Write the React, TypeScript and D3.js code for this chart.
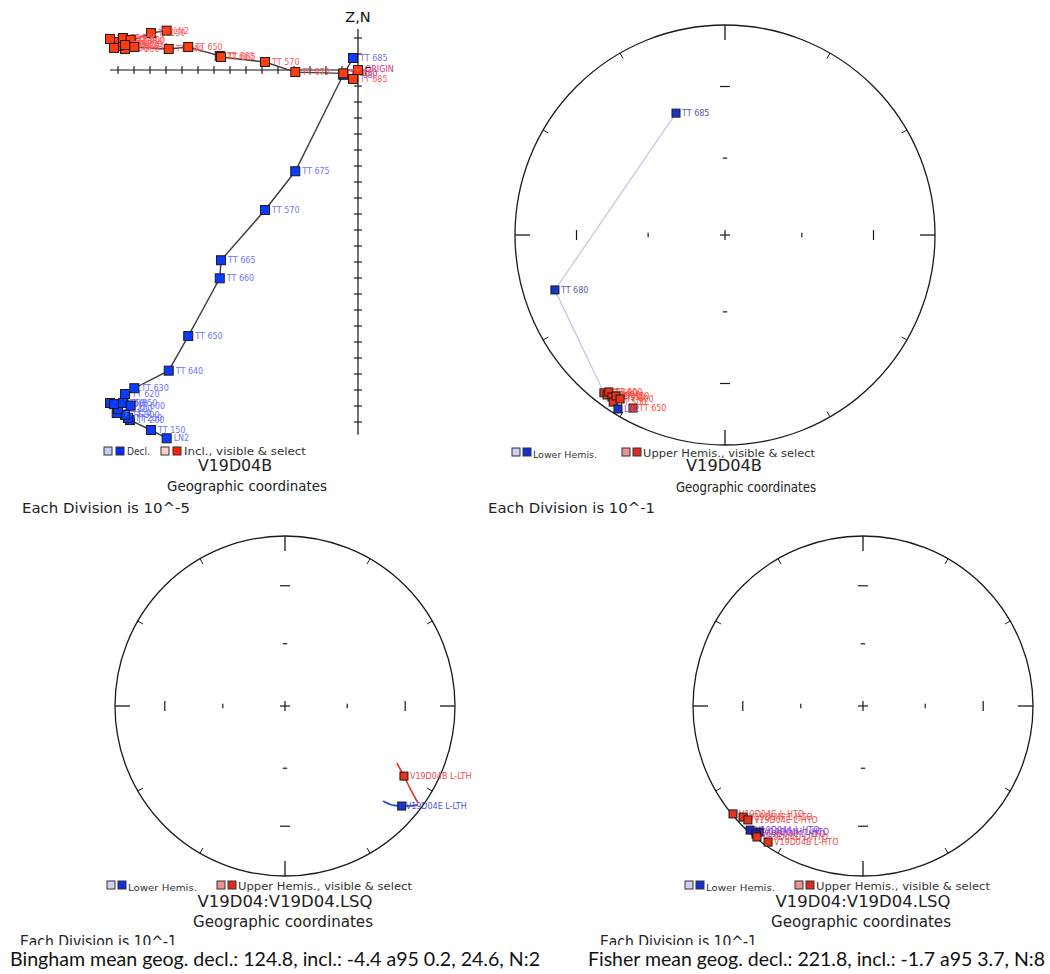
import React from 'react';
import * as d3 from 'd3';

const W = 1050;
const H = 974;
const DEG = Math.PI / 180;

// ---------- Orthogonal vector plot (one division = 1e-5) ----------
const zSteps = ['LN2', 'TT 150', 'TT 200', 'TT 250', 'TT 300', 'TT 350', 'TT 400', 'TT 450', 'TT 500', 'TT 550', 'TT 600', 'TT 620', 'TT 630', 'TT 640', 'TT 650', 'TT 660', 'TT 665', 'TT 570', 'TT 675', 'TT 680', 'TT 685'];
const zEast = [-11.96, -12.94, -14.25, -14.38, -14.56, -15.08, -15.0, -15.5, -15.25, -14.69, -14.21, -14.56, -13.98, -11.83, -10.61, -8.64, -8.56, -5.81, -3.92, -0.92, -0.31];
const zNorth = [-23.02, -22.5, -21.88, -21.75, -21.56, -21.44, -21.19, -20.81, -20.88, -20.81, -20.98, -20.25, -19.89, -18.79, -16.63, -13.02, -11.89, -8.75, -6.33, -0.3, 0.75];
const zUp = [2.46, 2.31, 1.81, 1.63, 1.31, 1.5, 1.75, 1.94, 1.38, 2.0, 1.88, 1.56, 1.44, 1.31, 1.44, 0.88, 0.81, 0.5, -0.13, -0.21, -0.56];
const zHTicks = [-15, -14, -13, -12, -11, -10, -9, -8, -7, -6, -5, -4, -3, -2, -1];
const zVTicks = [-22, -21, -20, -19, -18, -17, -16, -15, -14, -13, -12, -11, -10, -9, -8, -7, -6, -5, -4, -3, -2, -1, 1, 2];

// ---------- Step directions, V19D04B (equal-area) ----------
const stepLowerLabels = ['TT 685', 'TT 680', 'LN2'];
const stepLowerDec = [338.1, 252.1, 211.6];
const stepLowerInc = [37.5, 16.0, 3.1];
const stepUpperLabels = ['TT 630', 'TT 620', 'TT 600', 'TT 550', 'TT 500', 'TT 450', 'TT 400', 'TT 650'];
const stepUpperDec = [217.5, 216.4, 216.5, 214.9, 213.8, 214.1, 212.6, 208.0];
const stepUpperInc = [-5.9, -6.0, -7.8, -6.6, -4.8, -8.2, -8.1, -7.4];

// ---------- Low-temperature great-circle fragments (Bingham) ----------
const lthUpperArcDec = [117.0, 120.5, 123.3, 126.1];
const lthUpperArcInc = [-27.0, -19.9, -13.1, -3.6];
const lthLowerArcDec = [134.1, 132.8, 130.6, 126.7];
const lthLowerArcInc = [20.8, 15.3, 10.5, 2.8];
const lthUpperSample = { name: 'V19D04B L-LTH', dec: 120.5, inc: -19.9 };
const lthLowerSample = { name: 'V19D04E L-LTH', dec: 130.6, inc: 10.5 };

// ---------- High-temperature components (Fisher) ----------
const htoUpperNames = ['V19D04G L-HTO', 'V19D04F L-HTO', 'V19D04E L-HTO', 'V19D04D L-HTO', 'V19D04B L-HTO'];
const htoUpperDec = [230.3, 227.2, 225.3, 219.0, 214.9];
const htoUpperInc = [-0.7, -4.3, -5.3, -1.0, -2.7];
const htoLowerNames = ['V19D04A L-HTO', 'V19D04H L-HTO', 'V19D04C L-HTO'];
const htoLowerDec = [222.3, 219.5, 219.9];
const htoLowerInc = [1.5, 4.4, 2.1];

// Net decorations
const ringTicks = [30, 60, 120, 150, 210, 240, 300, 330];
const cardinalTicks = [0, 90, 180, 270];
const incTicks = [30, 60];

function project(dec: number, inc: number, cx: number, cy: number, rs: d3.ScaleLinear<number, number>) {
  const r = rs(Math.SQRT2 * Math.sin(((90 - Math.abs(inc)) / 2) * DEG));
  return [cx + r * Math.sin(dec * DEG), cy - r * Math.cos(dec * DEG)];
}

function Sq({ x, y, s, fill, stroke = '#1a1a1a' }: any) {
  return <rect x={x - s / 2} y={y - s / 2} width={s} height={s} fill={fill} stroke={stroke} strokeWidth={1} />;
}

function NetFrame({ cx, cy, R }: any) {
  const rs = d3.scaleLinear().domain([0, 1]).range([0, R]);
  const els: any[] = [];
  els.push(<circle key="c" cx={cx} cy={cy} r={R} fill="none" stroke="#1a1a1a" strokeWidth={1.3} />);
  cardinalTicks.forEach((a) => {
    const s = Math.sin(a * DEG), c = -Math.cos(a * DEG);
    els.push(<line key={'k' + a} x1={cx + s * R} y1={cy + c * R} x2={cx + s * (R - 15)} y2={cy + c * (R - 15)} stroke="#1a1a1a" strokeWidth={1.3} />);
  });
  ringTicks.forEach((a) => {
    const s = Math.sin(a * DEG), c = -Math.cos(a * DEG);
    els.push(<line key={'r' + a} x1={cx + s * R} y1={cy + c * R} x2={cx + s * (R - 6)} y2={cy + c * (R - 6)} stroke="#1a1a1a" strokeWidth={1} />);
  });
  incTicks.forEach((inc) => {
    const rr = rs(Math.SQRT2 * Math.sin(((90 - inc) / 2) * DEG));
    const h = inc === 30 ? 5 : 2.2;
    cardinalTicks.forEach((a) => {
      const s = Math.sin(a * DEG), c = -Math.cos(a * DEG);
      const px = cx + s * rr, py = cy + c * rr;
      els.push(<line key={'i' + inc + '-' + a} x1={px - Math.abs(c) * h} y1={py - Math.abs(s) * h} x2={px + Math.abs(c) * h} y2={py + Math.abs(s) * h} stroke="#1a1a1a" strokeWidth={1.2} />);
    });
  });
  els.push(<line key="ch" x1={cx - 5} y1={cy} x2={cx + 5} y2={cy} stroke="#1a1a1a" strokeWidth={1.2} />);
  els.push(<line key="cv" x1={cx} y1={cy - 5} x2={cx} y2={cy + 5} stroke="#1a1a1a" strokeWidth={1.2} />);
  return <g>{els}</g>;
}

function HemiLegend({ x, y, narrow }: any) {
  const s = 8;
  return (
    <g>
      <Sq x={x + 4} y={y} s={s} fill="#cfd0f2" stroke="#333" />
      <Sq x={x + 15} y={y} s={s} fill="#1230d8" stroke="#333" />
      <text x={x + 21} y={y + 6} fontSize={9} fill="#333" textLength={narrow ? 69 : 64} lengthAdjust="spacingAndGlyphs">Lower Hemis.</text>
      <Sq x={x + 114} y={y} s={s} fill="#f09090" stroke="#333" />
      <Sq x={x + 125} y={y} s={s} fill="#e02a20" stroke="#333" />
      <text x={x + 131} y={y + 5} fontSize={10.5} fill="#333" textLength={narrow ? 174 : 172} lengthAdjust="spacingAndGlyphs">Upper Hemis., visible &amp; select</text>
    </g>
  );
}

function ZijPanel() {
  const x = d3.scaleLinear().domain([0, 1]).range([358, 374]);
  const y = d3.scaleLinear().domain([0, 1]).range([70, 54]);
  const idx = d3.range(zSteps.length);
  const decLine = d3.line<number>().x((i) => x(zEast[i])).y((i) => y(zNorth[i]));
  const incLine = d3.line<number>().x((i) => x(zEast[i])).y((i) => y(zUp[i]));
  return (
    <g>
      {/* axes */}
      <line x1={x(-15.5)} y1={y(0)} x2={x(0.4)} y2={y(0)} stroke="#111" strokeWidth={1.2} />
      <line x1={x(0)} y1={y(2.56)} x2={x(0)} y2={y(-22.8)} stroke="#111" strokeWidth={1.2} />
      {zHTicks.map((t) => (
        <line key={'h' + t} x1={x(t)} y1={y(0) - 4} x2={x(t)} y2={y(0) + 4} stroke="#111" strokeWidth={1.1} />
      ))}
      {zVTicks.map((t) => (
        <line key={'v' + t} x1={x(0) - 4} y1={y(t)} x2={x(0) + 4} y2={y(t)} stroke="#111" strokeWidth={1.1} />
      ))}
      <text x={x(0)} y={22} fontSize={14.5} textAnchor="middle" fill="#111">Z,N</text>
      <text x={364} y={76} fontSize={12.5} fill="#111">E</text>
      {/* demagnetisation path */}
      <path d={decLine(idx) || ''} fill="none" stroke="#3c3c3c" strokeWidth={1.4} />
      <path d={incLine(idx) || ''} fill="none" stroke="#3c3c3c" strokeWidth={1.4} />
      {idx.map((i) => (
        <g key={'d' + i}>
          <Sq x={x(zEast[i])} y={y(zNorth[i])} s={9} fill="#0b3bff" />
          <text x={x(zEast[i]) + 7} y={y(zNorth[i]) + 3} fontSize={8} fill="#6f74ff">{zSteps[i]}</text>
        </g>
      ))}
      <Sq x={x(0)} y={y(0)} s={9} fill="#ff3b0f" />
      <text x={x(0) + 7} y={y(0) + 2} fontSize={8} fill="#d0307a">ORIGIN</text>
      {idx.map((i) => (
        <g key={'u' + i}>
          <Sq x={x(zEast[i])} y={y(zUp[i])} s={9} fill="#ff3b0f" />
          <text x={x(zEast[i]) + 7} y={y(zUp[i]) + 3} fontSize={8} fill="#ff5c5c">{zSteps[i]}</text>
        </g>
      ))}
      {/* legend */}
      <Sq x={108} y={451} s={8} fill="#c8ccf4" stroke="#333" />
      <Sq x={120} y={451} s={8} fill="#0a2cf0" stroke="#333" />
      <text x={127} y={455} fontSize={10} fill="#333" textLength={23} lengthAdjust="spacingAndGlyphs">Decl.</text>
      <Sq x={165} y={451} s={8} fill="#ffd0d0" stroke="#333" />
      <Sq x={177} y={451} s={8} fill="#ff2200" stroke="#333" />
      <text x={184} y={455} fontSize={10} fill="#333" textLength={122} lengthAdjust="spacingAndGlyphs">Incl., visible &amp; select</text>
      <text x={235} y={471} fontSize={15} textAnchor="middle" fill="#222" textLength={74} lengthAdjust="spacingAndGlyphs">V19D04B</text>
      <text x={247} y={491} fontSize={14.5} textAnchor="middle" fill="#222" textLength={160} lengthAdjust="spacingAndGlyphs">Geographic coordinates</text>
      <text x={22} y={513} fontSize={14.5} fill="#222" textLength={168} lengthAdjust="spacingAndGlyphs">Each Division is 10^-5</text>
    </g>
  );
}

function StepNet() {
  const cx = 725, cy = 235, R = 210;
  const rs = d3.scaleLinear().domain([0, 1]).range([0, R]);
  const lower = stepLowerDec.map((d, i) => project(d, stepLowerInc[i], cx, cy, rs));
  const upper = stepUpperDec.map((d, i) => project(d, stepUpperInc[i], cx, cy, rs));
  const pathPts = [lower[0], lower[1], upper[0]];
  const line = d3.line();
  return (
    <g>
      <NetFrame cx={cx} cy={cy} R={R} />
      <path d={line(pathPts as any) || ''} fill="none" stroke="#c6c6ec" strokeWidth={1.3} />
      {upper.map((p, i) => (
        <text key={'ut' + i} x={p[0] + 6} y={p[1] + 3} fontSize={8} fill="#ff4a3a">{stepUpperLabels[i]}</text>
      ))}
      {upper.map((p, i) => (
        <Sq key={'us' + i} x={p[0]} y={p[1]} s={8} fill="#e8341c" />
      ))}
      {lower.map((p, i) => (
        <g key={'l' + i}>
          <Sq x={p[0]} y={p[1]} s={8} fill="#1535c8" />
          <text x={p[0] + 6} y={p[1] + 3} fontSize={8} fill={i === 2 ? '#a04ab0' : '#5a5aa8'}>{stepLowerLabels[i]}</text>
        </g>
      ))}
      <HemiLegend x={512} y={452} />
      <text x={724} y={471} fontSize={15} textAnchor="middle" fill="#222" textLength={76} lengthAdjust="spacingAndGlyphs">V19D04B</text>
      <text x={746} y={492} fontSize={14.5} textAnchor="middle" fill="#222" textLength={140} lengthAdjust="spacingAndGlyphs">Geographic coordinates</text>
      <text x={488} y={513} fontSize={14.5} fill="#222" textLength={167} lengthAdjust="spacingAndGlyphs">Each Division is 10^-1</text>
    </g>
  );
}

function SiteTexts({ cx, divX }: any) {
  return (
    <g>
      <HemiLegend x={cx - 178} y={885} narrow />
      <text x={cx} y={907} fontSize={15.5} textAnchor="middle" fill="#222" textLength={175} lengthAdjust="spacingAndGlyphs">V19D04:V19D04.LSQ</text>
      <text x={cx - 2} y={927} fontSize={15.5} textAnchor="middle" fill="#222" textLength={180} lengthAdjust="spacingAndGlyphs">Geographic coordinates</text>
      <text x={divX} y={947} fontSize={15} fill="#222" textLength={157} lengthAdjust="spacingAndGlyphs" clipPath="url(#cutBottom)">Each Division is 10^-1</text>
    </g>
  );
}

function BinghamNet() {
  const cx = 285, cy = 706, R = 170;
  const rs = d3.scaleLinear().domain([0, 1]).range([0, R]);
  const line = d3.line().curve(d3.curveCatmullRom);
  const up = lthUpperArcDec.map((d, i) => project(d, lthUpperArcInc[i], cx, cy, rs));
  const lo = lthLowerArcDec.map((d, i) => project(d, lthLowerArcInc[i], cx, cy, rs));
  const pu = project(lthUpperSample.dec, lthUpperSample.inc, cx, cy, rs);
  const pl = project(lthLowerSample.dec, lthLowerSample.inc, cx, cy, rs);
  return (
    <g>
      <NetFrame cx={cx} cy={cy} R={R} />
      <path d={line(lo as any) || ''} fill="none" stroke="#2445d8" strokeWidth={1.6} />
      <path d={line(up as any) || ''} fill="none" stroke="#e8321e" strokeWidth={1.6} />
      <text x={pl[0] + 4} y={pl[1] + 3} fontSize={8} fill="#4a55c8">{lthLowerSample.name}</text>
      <Sq x={pl[0]} y={pl[1]} s={8} fill="#1a36d0" />
      <Sq x={pu[0]} y={pu[1]} s={8} fill="#e8321e" />
      <text x={pu[0] + 6} y={pu[1] + 3} fontSize={8} fill="#ee4a4a">{lthUpperSample.name}</text>
      <SiteTexts cx={285} divX={20} />
    </g>
  );
}

function FisherNet() {
  const cx = 863, cy = 706, R = 170;
  const rs = d3.scaleLinear().domain([0, 1]).range([0, R]);
  const up = htoUpperDec.map((d, i) => project(d, htoUpperInc[i], cx, cy, rs));
  const lo = htoLowerDec.map((d, i) => project(d, htoLowerInc[i], cx, cy, rs));
  return (
    <g>
      <NetFrame cx={cx} cy={cy} R={R} />
      {lo.map((p, i) => (
        <g key={'l' + i}>
          <Sq x={p[0]} y={p[1]} s={8} fill="#2a22b8" />
          <text x={p[0] + 5} y={p[1] + 3} fontSize={8} fill="#8a40d0">{htoLowerNames[i]}</text>
        </g>
      ))}
      {up.map((p, i) => (
        <g key={'u' + i}>
          <Sq x={p[0]} y={p[1]} s={8} fill="#e8321e" />
          <text x={p[0] + 6} y={p[1] + 3} fontSize={8} fill="#ee4a4a">{htoUpperNames[i]}</text>
        </g>
      ))}
      <SiteTexts cx={863} divX={600} />
    </g>
  );
}

export default function App() {
  return (
    <svg width={W} height={H} style={{ position: 'absolute', left: 0, top: 0, background: '#fff' }} fontFamily="'DejaVu Sans', sans-serif">
      <defs>
        <clipPath id="cutBottom">
          <rect x={0} y={0} width={W} height={945} />
        </clipPath>
      </defs>
      <rect width={W} height={H} fill="#fff" />
      <ZijPanel />
      <StepNet />
      <BinghamNet />
      <FisherNet />
      <text x={10} y={966} fontFamily="Lato, 'Open Sans', sans-serif" fontSize={19} fill="#111" textLength={530} lengthAdjust="spacingAndGlyphs">Bingham mean geog. decl.: 124.8, incl.: -4.4 a95 0.2, 24.6, N:2</text>
      <text x={588} y={966} fontFamily="Lato, 'Open Sans', sans-serif" fontSize={19} fill="#111" textLength={457} lengthAdjust="spacingAndGlyphs">Fisher mean geog. decl.: 221.8, incl.: -1.7 a95 3.7, N:8</text>
    </svg>
  );
}
